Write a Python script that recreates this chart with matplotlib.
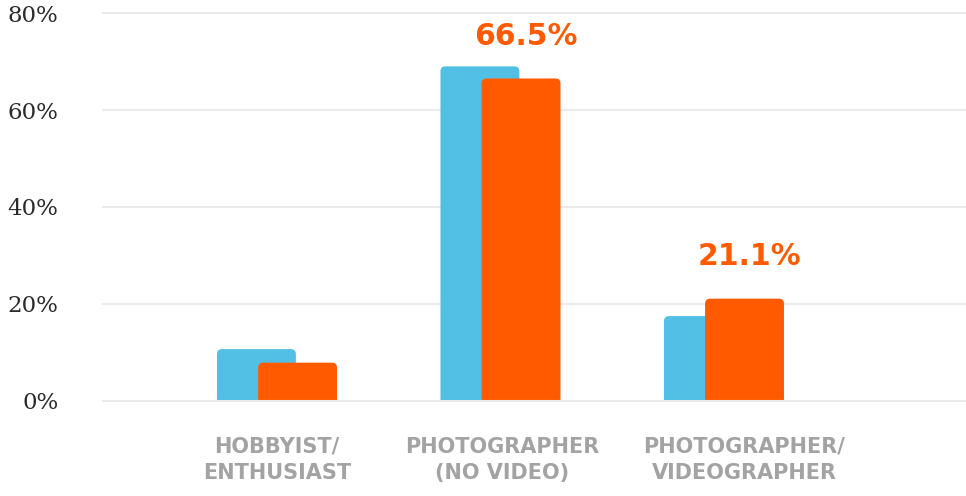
import matplotlib
matplotlib.use("Agg")
import matplotlib.pyplot as plt
from matplotlib.patches import FancyBboxPatch
from matplotlib.transforms import ScaledTranslation, blended_transform_factory
import numpy as np

categories = ["HOBBYIST/\nENTHUSIAST", "PHOTOGRAPHER\n(NO VIDEO)", "PHOTOGRAPHER/\nVIDEOGRAPHER"]
series_blue = [10.7, 69.0, 17.5]
series_orange = [7.9, 66.5, 21.1]
labelled = [False, True, True]
yticks = [0, 20, 40, 60, 80]
ytick_labels = ["0%", "20%", "40%", "60%", "80%"]

BLUE = "#52BFE4"
ORANGE = "#FF5A00"

W, H = 966, 496
fig = plt.figure(figsize=(W / 100, H / 100), dpi=100)
ax = fig.add_axes([102 / W, 1 - 403.9 / H, 1 - 102 / W, (403.9 - 10.1) / H])

x = np.arange(len(categories))
ax.set_xlim(-0.783, 3.083)
ax.set_ylim(-0.6, 80.6)

bw = 0.353
off = 0.092

xpp = (3.083 + 0.783) / (W - 102)
ypp = (80.6 + 0.6) / (403.9 - 10.1)
r_px = 5
aspect = ypp / xpp

def rbar(xc, h, color, z):
    p = FancyBboxPatch((xc - bw / 2, -r_px * ypp * 2), bw, h + r_px * ypp * 2,
                       boxstyle=f"round,pad=0,rounding_size={r_px * xpp}",
                       mutation_aspect=aspect, fc=color, ec="none", zorder=z)
    ax.add_patch(p)
    return p

for i in range(len(categories)):
    rbar(x[i] - off, series_blue[i], BLUE, 3)
    rbar(x[i] + off, series_orange[i], ORANGE, 4)
    if labelled[i]:
        ax.text(x[i] + off + 0.02, series_orange[i] + 6.9, f"{series_orange[i]:.1f}%",
                ha="center", va="baseline", color=ORANGE, fontsize=21.5,
                fontweight="bold", family="DejaVu Sans")

ax.axhspan(-0.6, 0, color="white", zorder=5, lw=0)

for y in yticks:
    ax.axhline(y, color="#EBEBEB", lw=1.5, zorder=1 if y else 6)

ax.set_yticks(yticks)
ax.set_yticklabels(ytick_labels, family="DejaVu Serif", fontsize=16.5, color="#2B2B2B")
ax.set_xticks(x)
ax.set_xticklabels([])
label_shift_px = [0, 2, 20]
btr = blended_transform_factory(ax.transData, ax.transAxes)
for i, cat in enumerate(categories):
    tr = btr + ScaledTranslation(label_shift_px[i] / 100, -33 / 100, fig.dpi_scale_trans)
    ax.text(x[i], 0, cat, transform=tr, ha="center", va="top", multialignment="center",
            family="DejaVu Sans", fontweight="bold", fontsize=15, color="#A3A3A3",
            linespacing=1.4)
ax.tick_params(axis="both", length=0)
ax.tick_params(axis="y", pad=31.5)
for s in ax.spines.values():
    s.set_visible(False)
ax.patch.set_alpha(0)

fig.savefig("out.png", dpi=100)
